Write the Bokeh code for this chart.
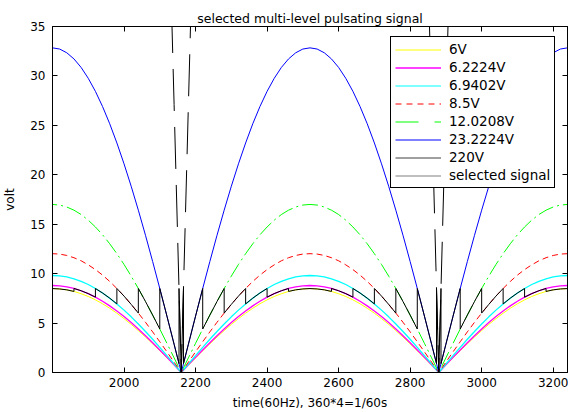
from bokeh.plotting import figure
from bokeh.models import (Legend, LegendItem, LinearAxis, ColumnDataSource, Range1d,
                          FixedTicker, CustomJSTickFormatter)
from bokeh.embed import file_html
from bokeh.resources import INLINE

title_text = "selected multi-level pulsating signal"
x_label = "time(60Hz), 360*4=1/60s"
y_label = "volt"
x_ticks = [2000, 2200, 2400, 2600, 2800, 3000, 3200]
y_ticks = [0, 5, 10, 15, 20, 25, 30, 35]
x_start, x_end = 1800, 3240
y_start, y_end = 0, 35

# time units per degree of the 60 Hz phase (360*4 = 1/60 s)
deg_to_time = 4
# zero crossings where each rectified half-wave starts
hump_starts = [1440, 2160, 2880]

# phase of the half-wave samples (degrees), rising quarter 0..90
phase_deg = [0, 5, 10, 15, 20, 25, 30, 35, 40, 45, 50, 55, 60, 65, 70, 75, 80, 85, 90]

legend_labels = ["6V", "6.2224V", "6.9402V", "8.5V", "12.0208V", "23.2224V", "220V", "selected signal"]

# rectified source voltages (volts) over the rising quarter, read at phase_deg
v_6 = [0.00, 0.74, 1.47, 2.20, 2.90, 3.59, 4.24, 4.87, 5.45, 6.00, 6.50, 6.95, 7.35, 7.69, 7.97, 8.20, 8.36, 8.45, 8.49]
v_6_2224 = [0.00, 0.77, 1.53, 2.28, 3.01, 3.72, 4.40, 5.05, 5.66, 6.22, 6.74, 7.21, 7.62, 7.98, 8.27, 8.50, 8.67, 8.77, 8.80]
v_6_9402 = [0.00, 0.86, 1.70, 2.54, 3.36, 4.15, 4.91, 5.63, 6.31, 6.94, 7.52, 8.04, 8.50, 8.90, 9.22, 9.48, 9.67, 9.78, 9.81]
v_8_5 = [0.00, 1.05, 2.09, 3.11, 4.11, 5.08, 6.01, 6.89, 7.73, 8.50, 9.21, 9.85, 10.41, 10.89, 11.30, 11.61, 11.84, 11.98, 12.02]
v_12_0208 = [0.00, 1.48, 2.95, 4.40, 5.81, 7.18, 8.50, 9.75, 10.93, 12.02, 13.02, 13.93, 14.72, 15.41, 15.98, 16.42, 16.74, 16.94, 17.00]
v_23_2224 = [0.00, 2.86, 5.70, 8.50, 11.23, 13.88, 16.42, 18.84, 21.11, 23.22, 25.16, 26.90, 28.44, 29.76, 30.86, 31.72, 32.34, 32.72, 32.84]
v_220 = [0.0, 27.1, 54.0, 80.5, 106.4, 131.5, 155.6, 178.5, 200.0, 220.0, 238.3, 254.9, 269.4, 282.0, 292.4, 300.5, 306.4, 309.9, 311.1]

# selected signal over the rising quarter (phase in degrees, volts); repeated phases are level switches
sel_phase = [0, 1.57, 1.57, 5, 10, 15, 15, 20, 25, 30, 30, 35, 40, 45, 45, 50, 55, 60, 60, 65, 70, 75, 75, 80, 85, 90]
sel_volt = [0.00, 8.50, 0.90, 2.86, 5.70, 8.50, 4.40, 5.81, 7.18, 8.50, 6.01, 6.89, 7.73, 8.50, 6.94, 7.52, 8.04, 8.50, 7.62, 7.98, 8.27, 8.50, 8.20, 8.36, 8.45, 8.49]


def full_wave(half_phase, half_val):
    ph = half_phase + [180 - p for p in reversed(half_phase[:-1])]
    vals = half_val + half_val[-2::-1]
    xs, ys = [], []
    for start in hump_starts:
        for p, v in zip(ph, vals):
            xs.append(start + deg_to_time * p)
            ys.append(v)
    return xs, ys


FONT = "DejaVu Sans"

p = figure(frame_width=515, frame_height=346,
           x_range=Range1d(x_start, x_end), y_range=Range1d(y_start, y_end),
           output_backend="svg", toolbar_location=None,
           min_border_left=46, min_border_right=1, min_border_top=26, min_border_bottom=40,
           title=title_text)
p.background_fill_color = "white"
p.border_fill_color = "white"
p.outline_line_color = "black"
p.outline_line_alpha = 1
p.grid.visible = False

p.title.align = "center"
p.title.text_font = FONT
p.title.text_font_size = "12.5px"
p.title.text_font_style = "normal"
p.title.text_color = "black"
p.title.standoff = 2

for ax in (p.xaxis[0], p.yaxis[0]):
    ax.axis_line_color = "black"
    ax.major_tick_line_color = "black"
    ax.major_tick_in = 5
    ax.major_tick_out = 0
    ax.minor_tick_line_color = None
    ax.major_label_text_font = FONT
    ax.major_label_text_font_size = "12px"
    ax.major_label_text_color = "black"
    ax.axis_label_text_font = FONT
    ax.axis_label_text_font_size = "12px"
    ax.axis_label_text_font_style = "normal"
    ax.axis_label_text_color = "black"

p.xaxis.ticker = FixedTicker(ticks=x_ticks)
p.yaxis.ticker = FixedTicker(ticks=y_ticks)
p.xaxis.axis_label = x_label
p.yaxis.axis_label = y_label
p.xaxis.major_label_standoff = 5
p.xaxis.axis_label_standoff = 6
p.yaxis.major_label_standoff = 7
p.yaxis.axis_label_standoff = 10

# box ticks on top and right (no labels)
blank = CustomJSTickFormatter(code="return ''")
top_ax = LinearAxis(ticker=FixedTicker(ticks=x_ticks), major_tick_in=5, major_tick_out=0,
                    minor_tick_line_color=None, formatter=blank,
                    major_label_standoff=0, axis_line_color="black")
right_ax = LinearAxis(ticker=FixedTicker(ticks=y_ticks), major_tick_in=5, major_tick_out=0,
                      minor_tick_line_color=None, formatter=blank,
                      major_label_standoff=0, axis_line_color="black")
p.add_layout(top_ax, "above")
p.add_layout(right_ax, "right")

series = [
    (v_6, "#ffff00", 1.0, "solid"),
    (v_6_2224, "#ff00ff", 1.3, "solid"),
    (v_6_9402, "#00ffff", 1.3, "solid"),
    (v_8_5, "#ff0000", 1.0, "6 4"),
    (v_12_0208, "#00ff00", 1.0, "16 4 2 4"),
    (v_23_2224, "#0000ff", 1.0, "solid"),
    (v_220, "#000000", 1.0, "42 16"),
]
for vals, color, lw, dash in series:
    xs, ys = full_wave(phase_deg, vals)
    p.line(xs, ys, line_color=color, line_width=lw, line_dash=dash)

sx, sy = full_wave(sel_phase, sel_volt)
p.line(sx, sy, line_color="black", line_width=1.0)

# legend samples (renderers holding no visible point)
legend_styles = [
    ("#ffff00", 1.0, "solid"),
    ("#ff00ff", 1.5, "solid"),
    ("#00ffff", 1.2, "solid"),
    ("#ff0000", 1.0, "6 5"),
    ("#00ff00", 1.0, "23 16"),
    ("#0000ff", 1.0, "solid"),
    ("#404040", 1.0, "solid"),
    ("#808080", 1.2, "solid"),
]
nan = float("nan")
items = []
for label, (color, lw, dash) in zip(legend_labels, legend_styles):
    r = p.line(x="x", y="y", source=ColumnDataSource(dict(x=[nan], y=[nan])),
               line_color=color, line_width=lw, line_dash=dash)
    items.append(LegendItem(label=label, renderers=[r]))

legend = Legend(items=items, location=(338, 184),
                label_text_font=FONT, label_text_font_size="13.5px",
                label_text_color="black",
                glyph_width=46, glyph_height=15, label_height=15, label_standoff=8,
                spacing=2, padding=4, margin=0,
                border_line_color="black", border_line_alpha=1, border_line_width=1,
                background_fill_color="white", background_fill_alpha=1)
p.add_layout(legend, "center")

open("out.html", "w").write(file_html(p, INLINE))
